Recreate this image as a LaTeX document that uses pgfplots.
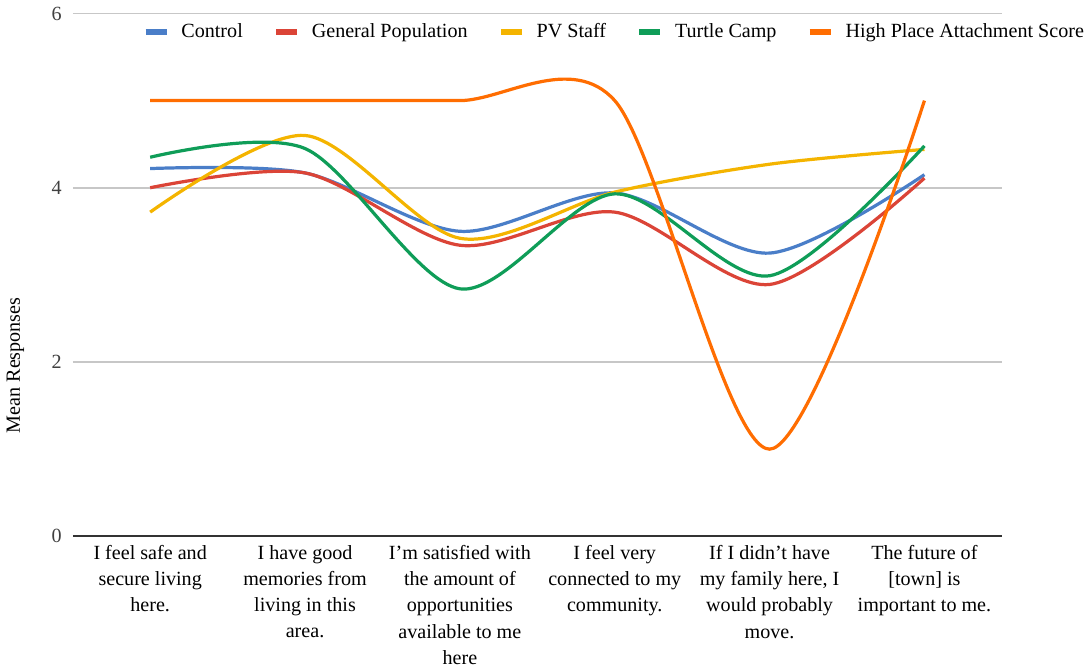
\documentclass[border=0pt]{standalone}
\usepackage{fontspec}
\setmainfont{Liberation Serif}
\usepackage{pgfplots}
\pgfplotsset{compat=1.18}

\definecolor{cControl}{HTML}{4A7EC8}
\definecolor{cGeneral}{HTML}{DB4437}
\definecolor{cStaff}{HTML}{F4B400}
\definecolor{cTurtle}{HTML}{0F9D58}
\definecolor{cHigh}{HTML}{FF6D01}

\begin{document}
\begin{tikzpicture}
\begin{axis}[
    scale only axis,
    width=462pt, height=260pt,
    xmin=-0.5, xmax=5.5,
    ymin=0, ymax=6,
    ytick={0,2,4,6},
    xtick={0,1,2,3,4,5},
    xticklabels={
        {I feel safe and\\secure living\\here.},
        {I have good\\memories from\\living in this\\area.},
        {I'm satisfied with\\the amount of\\opportunities\\available to me\\here},
        {I feel very\\connected to my\\community.},
        {If I didn't have\\my family here, I\\would probably\\move.},
        {The future of\\{[town]} is\\important to me.}},
    xticklabel style={align=center, font=\rmfamily\fontsize{10}{13}\selectfont, yshift=-1pt},
    yticklabel style={font=\rmfamily\fontsize{10}{12}\selectfont, text=black!75, xshift=-2pt,
        /pgf/number format/assume math mode=true},
    major tick length=0pt,
    axis x line*=bottom,
    axis y line*=left,
    x axis line style={draw=black!80, line width=1pt},
    y axis line style={draw=none},
    ymajorgrids,
    grid style={black!22, line width=0.8pt},
    ylabel={Mean Responses},
    ylabel style={at={(axis description cs:-0.0617,0.327)}, anchor=center, font=\rmfamily\fontsize{10}{12}\selectfont},
    legend columns=-1,
    legend style={
        at={(axis description cs:0.0747,0.965)}, anchor=west,
        draw=none, fill=none, inner sep=0pt,
        font=\rmfamily\fontsize{10}{12}\selectfont,
        /tikz/every even column/.append style={column sep=13pt},
    },
    legend image code/.code={\draw[#1, line width=3pt] (0pt,0pt) -- (10.5pt,0pt); \path (15pt,0pt);},
    every axis plot/.append style={line width=1.6pt, smooth, tension=0.5, no markers},
]
\addplot[color=cControl] coordinates {(0,4.22) (1,4.17) (2,3.50) (3,3.94) (4,3.25) (5,4.15)};
\addlegendentry{Control}
\addplot[color=cGeneral] coordinates {(0,4.00) (1,4.17) (2,3.34) (3,3.72) (4,2.89) (5,4.11)};
\addlegendentry{General Population}
\addplot[color=cStaff] coordinates {(0,3.72) (1,4.60) (2,3.42) (3,3.95) (4,4.27) (5,4.44)};
\addlegendentry{PV Staff}
\addplot[color=cTurtle] coordinates {(0,4.35) (1,4.45) (2,2.84) (3,3.93) (4,2.99) (5,4.48)};
\addlegendentry{Turtle Camp}
\addplot[color=cHigh] coordinates {(0,5) (1,5) (2,5) (3,5) (4,1) (5,5)};
\addlegendentry{High Place Attachment Score}
\end{axis}
\end{tikzpicture}
\end{document}
